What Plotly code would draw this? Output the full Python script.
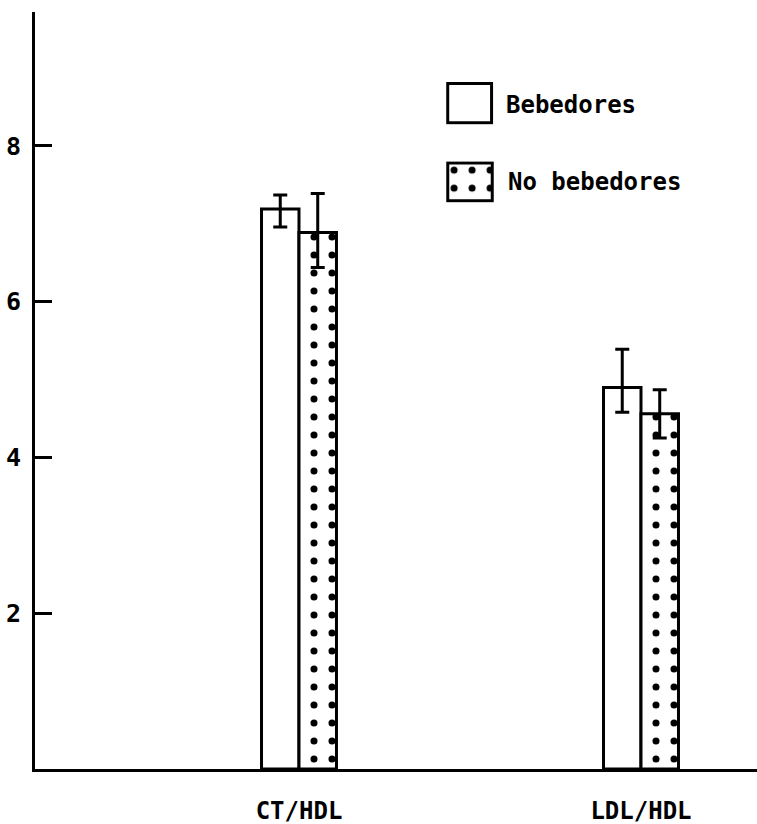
import plotly.graph_objects as go

categories = ["CT/HDL", "LDL/HDL"]
x_pos = [0, 1]
bebedores = [7.19, 4.90]
bebedores_plus = [0.18, 0.49]
bebedores_minus = [0.23, 0.32]
no_bebedores = [6.89, 4.56]
no_bebedores_plus = [0.50, 0.31]
no_bebedores_minus = [0.45, 0.31]
y_ticks = [2, 4, 6, 8]
series_names = ["Bebedores", "No bebedores"]

FONT = "DejaVu Sans Mono"
W = 0.1096
err_style = dict(color="black", thickness=3, width=7)
dots = dict(shape=".", fgcolor="black", bgcolor="white", fgopacity=1, size=18, solidity=0.12)

fig = go.Figure()
fig.add_trace(go.Bar(
    x=x_pos, y=bebedores, width=W, offset=-W, name=series_names[0],
    marker=dict(color="white", line=dict(color="black", width=3)),
    error_y=dict(type="data", array=bebedores_plus, arrayminus=bebedores_minus, **err_style),
    showlegend=False))
fig.add_trace(go.Bar(
    x=x_pos, y=no_bebedores, width=W, offset=0, name=series_names[1],
    marker=dict(color="white", line=dict(color="black", width=3), pattern=dots),
    error_y=dict(type="data", array=no_bebedores_plus, arrayminus=no_bebedores_minus, **err_style),
    showlegend=False))

# legend swatches as small subplots
fig.add_trace(go.Bar(x=[0], y=[1], width=1, xaxis="x2", yaxis="y2", showlegend=False,
                     marker=dict(color="white", line=dict(color="black", width=3)), hoverinfo="skip"))
fig.add_trace(go.Bar(x=[0], y=[1], width=1, xaxis="x3", yaxis="y3", showlegend=False,
                     marker=dict(color="white", line=dict(color="black", width=3), pattern=dots),
                     hoverinfo="skip"))

hidden = dict(visible=False, fixedrange=True)
fig.update_layout(
    width=757, height=824,
    margin=dict(l=35, r=0, t=12, b=55),
    paper_bgcolor="white", plot_bgcolor="white",
    barmode="overlay",
    font=dict(family=FONT, color="black", size=24, weight="bold"),
    xaxis=dict(range=[-0.7719, 1.3392], tickvals=x_pos, ticktext=categories, ticks="",
               showline=True, linecolor="black", linewidth=3, showgrid=False, zeroline=False,
               tickfont=dict(size=24, weight="bold"), ticklabelstandoff=18),
    yaxis=dict(range=[0, 9.72], tickvals=y_ticks, ticks="inside", ticklen=17, tickwidth=2.5,
               tickcolor="black", showline=True, linecolor="black", linewidth=3,
               showgrid=False, zeroline=False, tickfont=dict(size=25, weight="bold"),
               ticklabelstandoff=6),
    xaxis2=dict(domain=[0.568, 0.636], range=[-0.56, 0.56], anchor="y2", **hidden),
    yaxis2=dict(domain=[0.851, 0.908], range=[-0.05, 1.05], anchor="x2", **hidden),
    xaxis3=dict(domain=[0.568, 0.637], range=[-0.56, 0.56], anchor="y3", **hidden),
    yaxis3=dict(domain=[0.748, 0.803], range=[-0.05, 1.05], anchor="x3", **hidden),
    annotations=[
        dict(text=series_names[0], xref="paper", yref="paper", x=0.650, y=0.877,
             xanchor="left", yanchor="middle", showarrow=False,
             font=dict(size=24, weight="bold")),
        dict(text=series_names[1], xref="paper", yref="paper", x=0.653, y=0.775,
             xanchor="left", yanchor="middle", showarrow=False,
             font=dict(size=24, weight="bold")),
    ],
)

fig.write_html("out.html")
